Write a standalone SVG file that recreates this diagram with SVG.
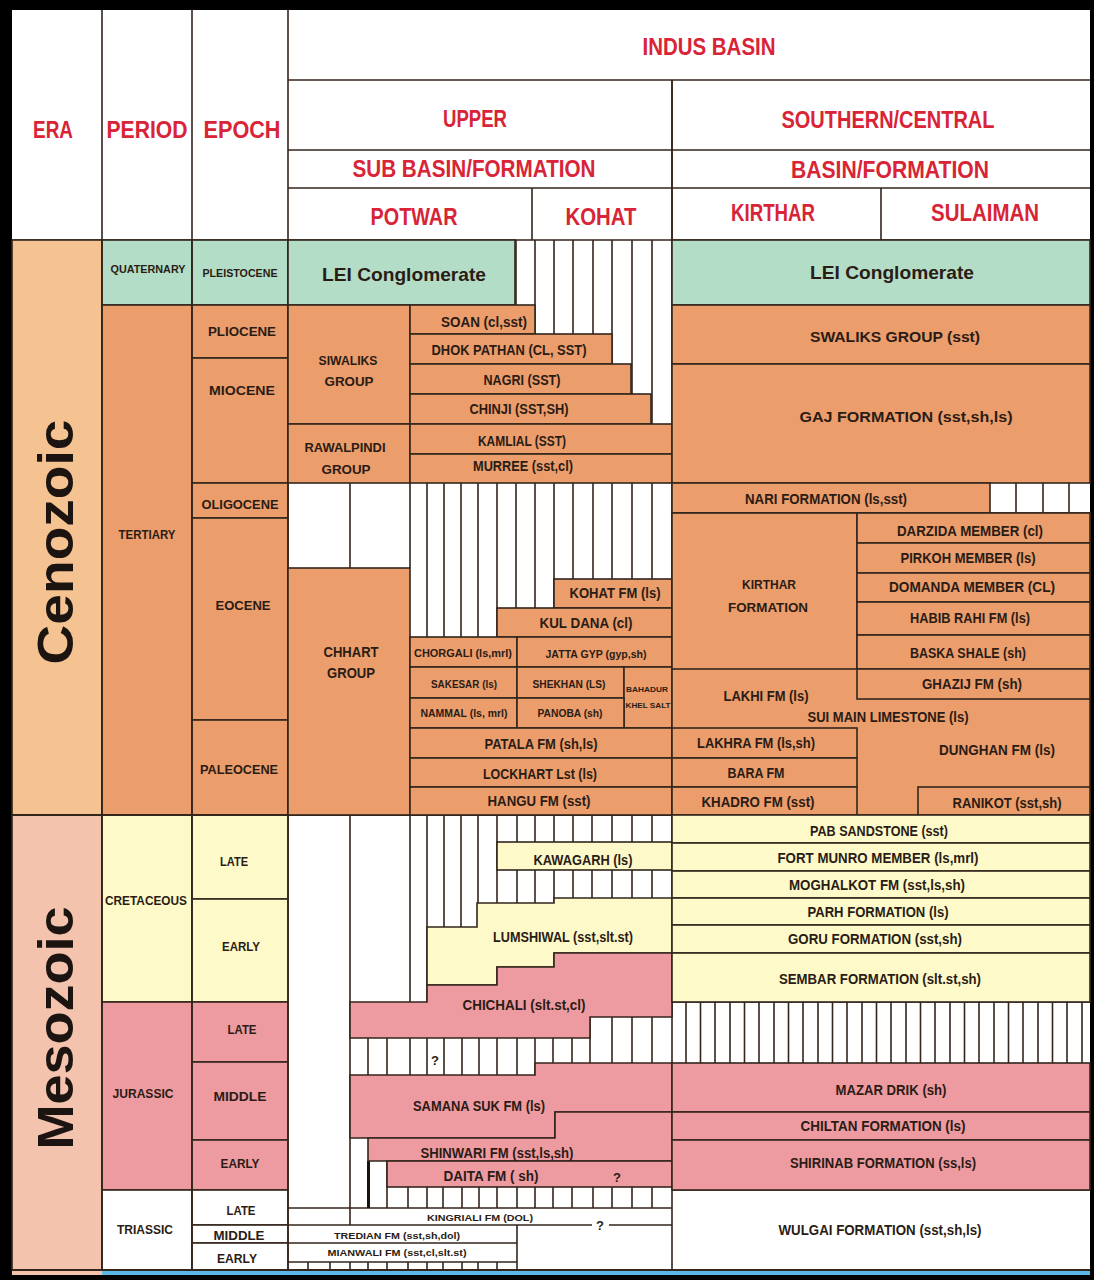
<svg xmlns="http://www.w3.org/2000/svg" width="1094" height="1280" viewBox="0 0 1094 1280">
<style>
.ln{stroke:#33261d;stroke-width:1.6;fill:none}
.bx{stroke:#33261d;stroke-width:1.6}
.o{fill:#ec9d6c}
.g{fill:#b3ddc7}
.y{fill:#fdf9c9}
.p{fill:#ee9aa1}
.w{fill:#ffffff}
.cz{fill:#f5c292}
.mz{fill:#f3c3ae}
text{font-family:"Liberation Sans",Arial,sans-serif;font-weight:bold;text-anchor:middle;dominant-baseline:central;fill:#2a1c14}
.h{fill:#d92336;font-size:23px}
.f{font-size:14px}
.e{font-size:13px}
.s{font-size:10px}
.xs{font-size:9px}
.era{font-size:50px;fill:#1c1410}
</style>
<rect x="0" y="0" width="1094" height="1280" fill="#000"/>
<rect x="12" y="10" width="1078" height="1260" fill="#fff"/>
<rect x="12" y="1270" width="90" height="5" fill="#f3c3ae"/>
<rect x="102" y="1270" width="988" height="5" fill="#5cb8e6"/>

<g id="header">
<path class="ln" d="M288 80H1090M288 150H1090M288 188H1090M12 240H1090M672 80V240M532 188V240M881 188V240"/>
<text class="h" x="53" y="130" textLength="40" lengthAdjust="spacingAndGlyphs">ERA</text>
<text class="h" x="147" y="130" textLength="81" lengthAdjust="spacingAndGlyphs">PERIOD</text>
<text class="h" x="242" y="130" textLength="77" lengthAdjust="spacingAndGlyphs">EPOCH</text>
<text class="h" x="709" y="47" textLength="133" lengthAdjust="spacingAndGlyphs">INDUS BASIN</text>
<text class="h" x="475" y="119" textLength="64" lengthAdjust="spacingAndGlyphs">UPPER</text>
<text class="h" x="888" y="120" textLength="213" lengthAdjust="spacingAndGlyphs">SOUTHERN/CENTRAL</text>
<text class="h" x="474" y="169" textLength="243" lengthAdjust="spacingAndGlyphs">SUB BASIN/FORMATION</text>
<text class="h" x="890" y="170" textLength="198" lengthAdjust="spacingAndGlyphs">BASIN/FORMATION</text>
<text class="h" x="414" y="217" textLength="87" lengthAdjust="spacingAndGlyphs">POTWAR</text>
<text class="h" x="601" y="217" textLength="71" lengthAdjust="spacingAndGlyphs">KOHAT</text>
<text class="h" x="773" y="213" textLength="84" lengthAdjust="spacingAndGlyphs">KIRTHAR</text>
<text class="h" x="985" y="213" textLength="108" lengthAdjust="spacingAndGlyphs">SULAIMAN</text>
</g>

<g id="eras">
<rect class="bx cz" x="12" y="240" width="90" height="575"/>
<rect class="bx mz" x="12" y="815" width="90" height="455"/>
<text class="era" transform="translate(56,542) rotate(-90)" x="0" y="0" textLength="245" lengthAdjust="spacingAndGlyphs">Cenozoic</text>
<text class="era" transform="translate(56,1028) rotate(-90)" x="0" y="0" textLength="243" lengthAdjust="spacingAndGlyphs">Mesozoic</text>
</g>

<g id="periods">
<rect class="bx g" x="102" y="240" width="90" height="65"/>
<rect class="bx o" x="102" y="305" width="90" height="510"/>
<rect class="bx y" x="102" y="815" width="90" height="187"/>
<rect class="bx p" x="102" y="1002" width="90" height="188"/>
<rect class="bx w" x="102" y="1190" width="90" height="80"/>
<text class="s" x="148" y="269" textLength="75" lengthAdjust="spacingAndGlyphs">QUATERNARY</text>
<text class="e" x="147" y="534" textLength="57" lengthAdjust="spacingAndGlyphs">TERTIARY</text>
<text class="e" x="146" y="900" textLength="82" lengthAdjust="spacingAndGlyphs">CRETACEOUS</text>
<text class="e" x="143" y="1093" textLength="61" lengthAdjust="spacingAndGlyphs">JURASSIC</text>
<text class="e" x="145" y="1229" textLength="56" lengthAdjust="spacingAndGlyphs">TRIASSIC</text>
</g>

<g id="epochs">
<rect class="bx g" x="192" y="240" width="96" height="65"/>
<rect class="bx o" x="192" y="305" width="96" height="53"/>
<rect class="bx o" x="192" y="358" width="96" height="125"/>
<rect class="bx o" x="192" y="483" width="96" height="35"/>
<rect class="bx o" x="192" y="518" width="96" height="202"/>
<rect class="bx o" x="192" y="720" width="96" height="95"/>
<rect class="bx y" x="192" y="815" width="96" height="84"/>
<rect class="bx y" x="192" y="899" width="96" height="103"/>
<rect class="bx p" x="192" y="1002" width="96" height="60"/>
<rect class="bx p" x="192" y="1062" width="96" height="78"/>
<rect class="bx p" x="192" y="1140" width="96" height="50"/>
<rect class="bx w" x="192" y="1190" width="96" height="35"/>
<rect class="bx w" x="192" y="1225" width="96" height="18"/>
<rect class="bx w" x="192" y="1243" width="96" height="27"/>
<text class="s" x="240" y="273" textLength="75" lengthAdjust="spacingAndGlyphs">PLEISTOCENE</text>
<text class="e" x="242" y="331" textLength="68" lengthAdjust="spacingAndGlyphs">PLIOCENE</text>
<text class="e" x="242" y="390" textLength="66" lengthAdjust="spacingAndGlyphs">MIOCENE</text>
<text class="e" x="240" y="504" textLength="77" lengthAdjust="spacingAndGlyphs">OLIGOCENE</text>
<text class="e" x="243" y="605" textLength="55" lengthAdjust="spacingAndGlyphs">EOCENE</text>
<text class="e" x="239" y="769" textLength="78" lengthAdjust="spacingAndGlyphs">PALEOCENE</text>
<text class="e" x="234" y="861" textLength="28" lengthAdjust="spacingAndGlyphs">LATE</text>
<text class="e" x="241" y="946" textLength="38" lengthAdjust="spacingAndGlyphs">EARLY</text>
<text class="e" x="242" y="1029" textLength="29" lengthAdjust="spacingAndGlyphs">LATE</text>
<text class="e" x="240" y="1096" textLength="53" lengthAdjust="spacingAndGlyphs">MIDDLE</text>
<text class="e" x="240" y="1163" textLength="39" lengthAdjust="spacingAndGlyphs">EARLY</text>
<text class="e" x="241" y="1210" textLength="29" lengthAdjust="spacingAndGlyphs">LATE</text>
<text class="e" x="239" y="1235" textLength="51" lengthAdjust="spacingAndGlyphs">MIDDLE</text>
<text class="e" x="237" y="1258" textLength="40" lengthAdjust="spacingAndGlyphs">EARLY</text>
</g>

<g id="connectors">
<path class="ln" d="M288 10V1270M102 10V1270M192 10V1270M672 80V1270
M516 240V637M535 240V637M554 240V637M573 240V637M593 240V637M612 240V637M632 240V637M652 240V637
M427 483V637M444 483V637M461 483V637M478 483V637M497 483V637M350 483V568M410 483V568
M1016 483V513M1043 483V513M1069 483V513
M350 815V1225M410 815V1002M427 815V1002M444 815V1002M461 815V1002M478 815V1002M497 815V1002M517 815V1002M535 815V1002M554 815V1002M573 815V1002M592 815V1002M612 815V1002M632 815V1002M652 815V1002
M368 1017V1075M387 1017V1075M410 1017V1075M427 1017V1075M444 1017V1075M462 1017V1075M479 1017V1075M497 1017V1075M517 1017V1075M535 1017V1075M553 1017V1075M572 1017V1075M590 1017V1075M612 1017V1075M632 1017V1075M652 1017V1075
M686 1002V1063M700.5 1002V1063M715 1002V1063M730 1002V1063M744.5 1002V1063M759 1002V1063M774 1002V1063M788.5 1002V1063M803 1002V1063M818 1002V1063M832.5 1002V1063M847 1002V1063M862 1002V1063M876.5 1002V1063M891 1002V1063M906 1002V1063M920.5 1002V1063M935 1002V1063M950 1002V1063M964.5 1002V1063M979 1002V1063M994 1002V1063M1008.5 1002V1063M1023 1002V1063M1038 1002V1063M1052.5 1002V1063M1067 1002V1063M1082 1002V1063M672 1002H1090
M387 1161V1208M408 1187V1208M427 1187V1208M443 1187V1208M462 1187V1208M479 1187V1208M497 1187V1208M517 1187V1208M535 1187V1208M553 1187V1208M572 1187V1208M593 1187V1208M612 1187V1208M632 1187V1208M652 1187V1208
M288 1208H672M288 1225H592M609 1225H672M288 1243H517M288 1262H517M517 1225V1270
M308 1262V1270M330 1262V1270M350 1262V1270M368 1262V1270M387 1262V1270M408 1262V1270M427 1262V1270M443 1262V1270M462 1262V1270M478 1262V1270M497 1262V1270
M672 1190H1090"/>
<path d="M368.5 1161V1208" stroke="#1a120c" stroke-width="3" fill="none"/>
<path d="M12 815H1090" stroke="#33261d" stroke-width="2.2" fill="none"/>
</g>

<g id="quaternary">
<rect class="bx g" x="288" y="240" width="227" height="65"/>
<rect class="bx g" x="672" y="240" width="418" height="65"/>
<text x="404" y="274" font-size="19" textLength="164" lengthAdjust="spacingAndGlyphs">LEI Conglomerate</text>
<text x="892" y="272" font-size="19" textLength="164" lengthAdjust="spacingAndGlyphs">LEI Conglomerate</text>
</g>

<g id="potwar-kohat-tertiary">
<rect class="bx o" x="288" y="305" width="122" height="119"/>
<rect class="bx o" x="288" y="424" width="122" height="59"/>
<rect class="bx o" x="410" y="305" width="125" height="29"/>
<rect class="bx o" x="410" y="334" width="202" height="30"/>
<rect class="bx o" x="410" y="364" width="221" height="30"/>
<rect class="bx o" x="410" y="394" width="241" height="30"/>
<rect class="bx o" x="410" y="424" width="262" height="30"/>
<rect class="bx o" x="410" y="454" width="262" height="29"/>
<rect class="bx o" x="288" y="568" width="122" height="247"/>
<rect class="bx o" x="554" y="579" width="118" height="29"/>
<rect class="bx o" x="497" y="608" width="175" height="29"/>
<rect class="bx o" x="410" y="637" width="107" height="30"/>
<rect class="bx o" x="517" y="637" width="155" height="30"/>
<rect class="bx o" x="410" y="667" width="107" height="31"/>
<rect class="bx o" x="517" y="667" width="107" height="31"/>
<rect class="bx o" x="624" y="667" width="48" height="61"/>
<rect class="bx o" x="410" y="698" width="107" height="30"/>
<rect class="bx o" x="517" y="698" width="107" height="30"/>
<rect class="bx o" x="410" y="728" width="262" height="30"/>
<rect class="bx o" x="410" y="758" width="262" height="29"/>
<rect class="bx o" x="410" y="787" width="262" height="28"/>
<text class="f" x="484" y="322" textLength="86" lengthAdjust="spacingAndGlyphs">SOAN (cl,sst)</text>
<text class="f" x="509" y="350" textLength="155" lengthAdjust="spacingAndGlyphs">DHOK PATHAN (CL, SST)</text>
<text class="f" x="522" y="380" textLength="77" lengthAdjust="spacingAndGlyphs">NAGRI (SST)</text>
<text class="f" x="519" y="409" textLength="99" lengthAdjust="spacingAndGlyphs">CHINJI (SST,SH)</text>
<text class="f" x="522" y="441" textLength="88" lengthAdjust="spacingAndGlyphs">KAMLIAL (SST)</text>
<text class="f" x="523" y="466" textLength="100" lengthAdjust="spacingAndGlyphs">MURREE (sst,cl)</text>
<text class="e" x="348" y="360" textLength="59" lengthAdjust="spacingAndGlyphs">SIWALIKS</text>
<text class="e" x="349" y="381" textLength="49" lengthAdjust="spacingAndGlyphs">GROUP</text>
<text class="e" x="345" y="447" textLength="81" lengthAdjust="spacingAndGlyphs">RAWALPINDI</text>
<text class="e" x="346" y="469" textLength="49" lengthAdjust="spacingAndGlyphs">GROUP</text>
<text class="f" x="351" y="652" textLength="55" lengthAdjust="spacingAndGlyphs">CHHART</text>
<text class="f" x="351" y="673" textLength="48" lengthAdjust="spacingAndGlyphs">GROUP</text>
<text class="f" x="615" y="593" textLength="91" lengthAdjust="spacingAndGlyphs">KOHAT FM (ls)</text>
<text class="f" x="586" y="623" textLength="93" lengthAdjust="spacingAndGlyphs">KUL DANA (cl)</text>
<text class="s" x="463" y="653" textLength="98" lengthAdjust="spacingAndGlyphs">CHORGALI (ls,mrl)</text>
<text class="s" x="596" y="654" textLength="101" lengthAdjust="spacingAndGlyphs">JATTA GYP (gyp,sh)</text>
<text class="s" x="464" y="684" textLength="66" lengthAdjust="spacingAndGlyphs">SAKESAR (ls)</text>
<text class="s" x="569" y="684" textLength="73" lengthAdjust="spacingAndGlyphs">SHEKHAN (LS)</text>
<text font-size="8" x="647" y="689" textLength="42" lengthAdjust="spacingAndGlyphs">BAHADUR</text>
<text font-size="8" x="648" y="705" textLength="45" lengthAdjust="spacingAndGlyphs">KHEL SALT</text>
<text class="s" x="464" y="713" textLength="87" lengthAdjust="spacingAndGlyphs">NAMMAL (ls, mrl)</text>
<text class="s" x="570" y="713" textLength="65" lengthAdjust="spacingAndGlyphs">PANOBA (sh)</text>
<text class="f" x="541" y="744" textLength="113" lengthAdjust="spacingAndGlyphs">PATALA FM (sh,ls)</text>
<text class="f" x="540" y="774" textLength="114" lengthAdjust="spacingAndGlyphs">LOCKHART Lst (ls)</text>
<text class="f" x="539" y="801" textLength="103" lengthAdjust="spacingAndGlyphs">HANGU FM (sst)</text>
</g>

<g id="kirthar-sulaiman-tertiary">
<rect class="bx o" x="672" y="305" width="418" height="59"/>
<rect class="bx o" x="672" y="364" width="418" height="119"/>
<rect class="bx o" x="672" y="483" width="318" height="30"/>
<rect class="bx o" x="672" y="513" width="418" height="302"/>
<rect class="bx o" x="672" y="513" width="185" height="156"/>
<rect class="bx o" x="857" y="513" width="233" height="30"/>
<rect class="bx o" x="857" y="543" width="233" height="30"/>
<rect class="bx o" x="857" y="573" width="233" height="29"/>
<rect class="bx o" x="857" y="602" width="233" height="33"/>
<rect class="bx o" x="857" y="635" width="233" height="34"/>
<rect class="bx o" x="857" y="669" width="233" height="30"/>
<rect class="bx o" x="672" y="728" width="185" height="30"/>
<rect class="bx o" x="672" y="758" width="185" height="29"/>
<rect class="bx o" x="672" y="787" width="185" height="28"/>
<rect class="bx o" x="918" y="787" width="172" height="28"/>
<text class="f" x="895" y="337" font-size="15" textLength="170" lengthAdjust="spacingAndGlyphs">SWALIKS GROUP (sst)</text>
<text class="f" x="906" y="417" font-size="16" textLength="213" lengthAdjust="spacingAndGlyphs">GAJ FORMATION (sst,sh,ls)</text>
<text class="f" x="826" y="499" textLength="162" lengthAdjust="spacingAndGlyphs">NARI FORMATION (ls,sst)</text>
<text class="e" x="769" y="584" textLength="54" lengthAdjust="spacingAndGlyphs">KIRTHAR</text>
<text class="e" x="768" y="607" textLength="80" lengthAdjust="spacingAndGlyphs">FORMATION</text>
<text class="f" x="970" y="531" textLength="146" lengthAdjust="spacingAndGlyphs">DARZIDA MEMBER (cl)</text>
<text class="f" x="968" y="558" textLength="135" lengthAdjust="spacingAndGlyphs">PIRKOH MEMBER (ls)</text>
<text class="f" x="972" y="587" textLength="166" lengthAdjust="spacingAndGlyphs">DOMANDA MEMBER (CL)</text>
<text class="f" x="970" y="618" textLength="120" lengthAdjust="spacingAndGlyphs">HABIB RAHI FM (ls)</text>
<text class="f" x="968" y="653" textLength="116" lengthAdjust="spacingAndGlyphs">BASKA SHALE (sh)</text>
<text class="f" x="972" y="684" textLength="100" lengthAdjust="spacingAndGlyphs">GHAZIJ FM (sh)</text>
<text class="f" x="766" y="696" textLength="85" lengthAdjust="spacingAndGlyphs">LAKHI FM (ls)</text>
<text class="f" x="888" y="717" textLength="161" lengthAdjust="spacingAndGlyphs">SUI MAIN LIMESTONE (ls)</text>
<text class="f" x="756" y="743" textLength="118" lengthAdjust="spacingAndGlyphs">LAKHRA FM (ls,sh)</text>
<text class="f" x="756" y="773" textLength="57" lengthAdjust="spacingAndGlyphs">BARA FM</text>
<text class="f" x="758" y="802" textLength="113" lengthAdjust="spacingAndGlyphs">KHADRO FM (sst)</text>
<text class="f" x="997" y="750" textLength="116" lengthAdjust="spacingAndGlyphs">DUNGHAN FM (ls)</text>
<text class="f" x="1007" y="803" textLength="109" lengthAdjust="spacingAndGlyphs">RANIKOT (sst,sh)</text>
</g>

<g id="potwar-kohat-mesozoic">
<rect class="bx y" x="497" y="842" width="175" height="28"/>
<polygon class="bx y" points="427,927 477,927 477,903 554,903 554,898 672,898 672,953 554,953 554,967 497,967 497,985 427,985"/>
<polygon class="bx p" points="350,1002 427,1002 427,985 497,985 497,967 554,967 554,953 672,953 672,1017 590,1017 590,1038 350,1038"/>
<polygon class="bx p" points="350,1075 535,1075 535,1063 672,1063 672,1112 555,1112 555,1138 350,1138"/>
<polygon class="bx p" points="368,1138 555,1138 555,1112 672,1112 672,1161 368,1161"/>
<rect class="bx p" x="387" y="1161" width="285" height="26"/>
<text class="f" x="583" y="860" textLength="99" lengthAdjust="spacingAndGlyphs">KAWAGARH (ls)</text>
<text class="f" x="563" y="937" textLength="140" lengthAdjust="spacingAndGlyphs">LUMSHIWAL (sst,slt.st)</text>
<text class="f" x="524" y="1005" textLength="123" lengthAdjust="spacingAndGlyphs">CHICHALI (slt.st,cl)</text>
<text class="e" x="435" y="1060">?</text>
<text class="f" x="479" y="1106" textLength="132" lengthAdjust="spacingAndGlyphs">SAMANA SUK FM (ls)</text>
<text class="f" x="497" y="1153" textLength="153" lengthAdjust="spacingAndGlyphs">SHINWARI FM (sst,ls,sh)</text>
<text class="f" x="491" y="1176" textLength="95" lengthAdjust="spacingAndGlyphs">DAITA FM ( sh)</text>
<text class="e" x="617" y="1177">?</text>
<text class="xs" x="480" y="1218" textLength="106" lengthAdjust="spacingAndGlyphs">KINGRIALI FM (DOL)</text>
<text class="e" x="600" y="1225">?</text>
<text class="xs" x="397" y="1236" textLength="126" lengthAdjust="spacingAndGlyphs">TREDIAN FM (sst,sh,dol)</text>
<text class="xs" x="397" y="1253" textLength="139" lengthAdjust="spacingAndGlyphs">MIANWALI FM (sst,cl,slt.st)</text>
</g>

<g id="kirthar-sulaiman-mesozoic">
<rect class="bx y" x="672" y="815" width="418" height="28"/>
<rect class="bx y" x="672" y="843" width="418" height="28"/>
<rect class="bx y" x="672" y="871" width="418" height="27"/>
<rect class="bx y" x="672" y="898" width="418" height="27"/>
<rect class="bx y" x="672" y="925" width="418" height="28"/>
<rect class="bx y" x="672" y="953" width="418" height="49"/>
<rect class="bx p" x="672" y="1063" width="418" height="49"/>
<rect class="bx p" x="672" y="1112" width="418" height="28"/>
<rect class="bx p" x="672" y="1140" width="418" height="50"/>
<text class="f" x="879" y="831" textLength="138" lengthAdjust="spacingAndGlyphs">PAB SANDSTONE (sst)</text>
<text class="f" x="878" y="858" textLength="201" lengthAdjust="spacingAndGlyphs">FORT MUNRO MEMBER (ls,mrl)</text>
<text class="f" x="877" y="885" textLength="176" lengthAdjust="spacingAndGlyphs">MOGHALKOT FM (sst,ls,sh)</text>
<text class="f" x="878" y="912" textLength="141" lengthAdjust="spacingAndGlyphs">PARH FORMATION (ls)</text>
<text class="f" x="875" y="939" textLength="174" lengthAdjust="spacingAndGlyphs">GORU FORMATION (sst,sh)</text>
<text class="f" x="880" y="979" textLength="202" lengthAdjust="spacingAndGlyphs">SEMBAR FORMATION (slt.st,sh)</text>
<text class="f" x="891" y="1090" textLength="111" lengthAdjust="spacingAndGlyphs">MAZAR DRIK (sh)</text>
<text class="f" x="883" y="1126" textLength="165" lengthAdjust="spacingAndGlyphs">CHILTAN FORMATION (ls)</text>
<text class="f" x="883" y="1163" textLength="186" lengthAdjust="spacingAndGlyphs">SHIRINAB FORMATION (ss,ls)</text>
<text class="f" x="880" y="1230" textLength="203" lengthAdjust="spacingAndGlyphs">WULGAI FORMATION (sst,sh,ls)</text>
</g>
<path d="M12 1270H1090" stroke="#33261d" stroke-width="2" fill="none"/>
</svg>
